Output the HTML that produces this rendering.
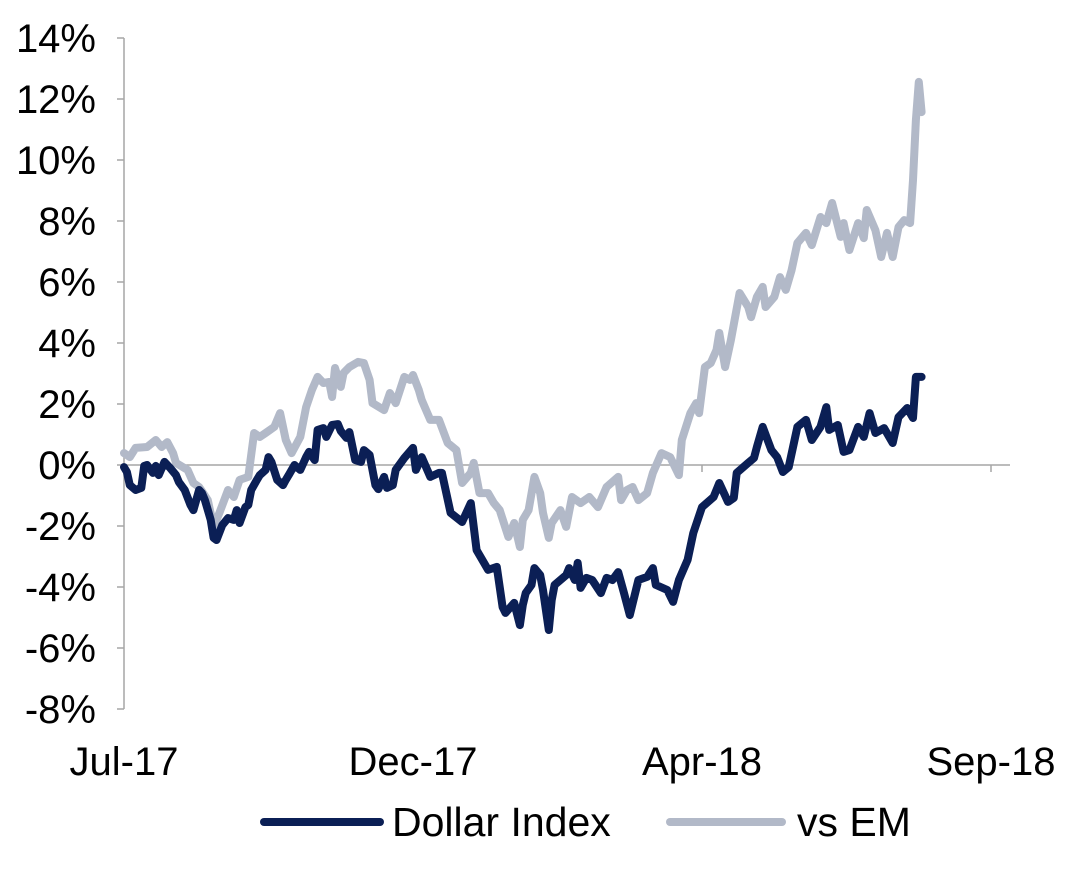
<!DOCTYPE html>
<html><head><meta charset="utf-8"><style>
html,body{margin:0;padding:0;background:#fff;}
svg{display:block;font-family:"Liberation Sans",Arial,sans-serif;}
</style></head><body>
<svg id="chart" width="1067" height="873" viewBox="0 0 1067 873" xmlns="http://www.w3.org/2000/svg"></svg>
<script>
const yTicks=[-8,-6,-4,-2,0,2,4,6,8,10,12,14];
const xTickIdx=[0,100,200,300];
const xTickLabels=["Jul-17","Dec-17","Apr-18","Sep-18"];
const dollarIdx=[0,1,2,4,6,7,8,10,11,12,14,16,18,19,21,23,24,26,27,28,30,31,32,34,36,38,39,40,42,43,44,46,47,49,50,51,53,55,56,57,59,61,63,64,66,67,69,70,72,74,75,77,78,80,82,83,85,87,88,90,91,93,94,97,100,101,103,106,109,110,113,117,120,122,126,129,131,132,135,137,138,139,141,142,144,145,147,148,149,153,154,156,157,158,160,162,165,167,169,171,173,175,178,181,183,184,188,190,192,195,197,200,204,206,209,211,212,216,218,219,221,224,226,228,230,233,236,238,241,243,244,247,249,251,254,256,258,260,263,266,268,271,273,274,276];
const dollarVal=[-0.07,-0.23,-0.66,-0.82,-0.75,-0.03,0,-0.26,-0.03,-0.33,0.1,-0.1,-0.33,-0.56,-0.82,-1.31,-1.48,-0.82,-0.92,-1.15,-1.8,-2.39,-2.46,-1.97,-1.74,-1.8,-1.48,-1.9,-1.38,-1.31,-0.82,-0.49,-0.33,-0.16,0.26,0.1,-0.49,-0.66,-0.49,-0.33,0,-0.16,0.26,0.43,0.16,1.15,1.21,0.92,1.31,1.34,1.11,0.89,1.08,0.16,0.1,0.49,0.33,-0.66,-0.79,-0.39,-0.75,-0.66,-0.16,0.23,0.56,-0.16,0.26,-0.39,-0.26,-0.26,-1.57,-1.87,-1.25,-2.79,-3.44,-3.34,-4.66,-4.85,-4.52,-5.25,-4.59,-4.2,-3.93,-3.38,-3.61,-4.1,-5.41,-4.43,-3.93,-3.61,-3.38,-3.77,-3.21,-4.03,-3.7,-3.77,-4.2,-3.7,-3.77,-3.51,-4.2,-4.92,-3.77,-3.67,-3.38,-3.93,-4.1,-4.49,-3.77,-3.11,-2.23,-1.38,-1.05,-0.59,-1.21,-1.08,-0.26,0.07,0.23,0.59,1.25,0.49,0.26,-0.23,-0.07,1.25,1.48,0.82,1.25,1.9,1.15,1.31,0.43,0.49,1.25,0.92,1.7,1.05,1.21,0.72,1.57,1.87,1.54,2.89,2.89];
const emIdx=[0,2,4,8,11,13,15,17,18,22,24,26,29,31,33,36,38,40,43,45,47,49,52,54,56,58,61,63,65,67,69,71,72,73,75,76,78,81,83,85,86,90,92,94,97,99,100,102,103,106,109,112,115,117,120,121,123,126,128,130,133,135,137,138,140,142,144,145,147,148,151,153,155,158,161,164,167,171,172,174,176,178,181,183,186,189,192,193,196,198,199,201,203,205,206,208,210,213,216,217,219,221,222,225,227,229,231,233,236,238,241,243,245,248,249,251,254,256,257,260,262,264,266,268,270,272,273,274,275,276];
const emVal=[0.39,0.26,0.56,0.59,0.82,0.59,0.75,0.39,0.07,-0.16,-0.59,-0.72,-1.15,-2.03,-1.57,-0.82,-1.05,-0.49,-0.39,1.05,0.92,1.05,1.25,1.7,0.82,0.39,0.92,1.9,2.46,2.89,2.69,2.72,2.23,3.18,2.56,3.02,3.21,3.38,3.34,2.79,2.03,1.8,2.36,2.03,2.89,2.79,2.95,2.46,2.13,1.48,1.48,0.72,0.49,-0.59,-0.26,0.07,-0.92,-0.92,-1.25,-1.48,-2.36,-1.9,-2.69,-1.8,-1.48,-0.39,-0.92,-1.57,-2.39,-1.9,-1.48,-2.03,-1.05,-1.25,-1.05,-1.38,-0.72,-0.39,-1.15,-0.82,-0.72,-1.15,-0.92,-0.26,0.39,0.26,-0.33,0.82,1.7,2.03,1.7,3.21,3.34,3.77,4.33,3.21,4.1,5.64,5.18,4.85,5.51,5.84,5.18,5.51,6.16,5.74,6.39,7.28,7.61,7.21,8.13,7.93,8.59,7.48,7.93,7.05,7.93,7.44,8.36,7.7,6.82,7.61,6.82,7.8,8.03,7.93,9.34,11.31,12.56,11.57];

const NS="http://www.w3.org/2000/svg";
const svg=document.getElementById('chart');
const X0=124,XPER=2.89,Y0=465,YPER=30.5;
function xs(i){return X0+i*XPER;}
function ys(v){return Y0-v*YPER;}
function mk(tag,attrs,parent){const e=document.createElementNS(NS,tag);for(const k in attrs)e.setAttribute(k,attrs[k]);(parent||svg).appendChild(e);return e;}

const yAxis=mk('line',{x1:X0,y1:ys(14),x2:X0,y2:ys(-8),stroke:'#a6a6a6','stroke-width':1.5});


yTicks.forEach(t=>{
  const tk=mk('line',{x1:X0-7,y1:ys(t),x2:X0,y2:ys(t),stroke:'#a6a6a6','stroke-width':1.5});
  
  
  const tx=mk('text',{x:96,y:ys(t)+14,'text-anchor':'end','font-size':40,fill:'#000'});
  tx.textContent=t+'%';
  
  
});
const xAxis=mk('line',{x1:X0,y1:Y0,x2:1010,y2:Y0,stroke:'#a6a6a6','stroke-width':1.5});


xTickIdx.forEach((d,k)=>{
  const tk=mk('line',{x1:xs(d),y1:Y0,x2:xs(d),y2:Y0+7,stroke:'#a6a6a6','stroke-width':1.5});
  
  
  const tx=mk('text',{x:xs(d),y:775,'text-anchor':'middle','font-size':40,fill:'#000'});
  tx.textContent=xTickLabels[k];
  
  
});
function series(idx,val,color,name){
  const d=idx.map((i,k)=>(k?'L':'M')+xs(i).toFixed(1)+','+ys(val[k]).toFixed(1)).join('');
  const p=mk('path',{d:d,fill:'none',stroke:color,'stroke-width':8,'stroke-linejoin':'round','stroke-linecap':'round'});
  
  
}
series(emIdx,emVal,'#b2b9c8','vs-em-line');
series(dollarIdx,dollarVal,'#0b1f55','dollar-index-line');

const l1=mk('line',{x1:264,y1:822,x2:380,y2:822,stroke:'#0b1f55','stroke-width':8,'stroke-linecap':'round'});


const t1=mk('text',{x:392,y:836,'font-size':41,fill:'#000'});t1.textContent='Dollar Index';


const l2=mk('line',{x1:670,y1:822,x2:782,y2:822,stroke:'#b2b9c8','stroke-width':8,'stroke-linecap':'round'});


const t2=mk('text',{x:797,y:836,'font-size':41,fill:'#000'});t2.textContent='vs EM';


</script>
</body></html>
